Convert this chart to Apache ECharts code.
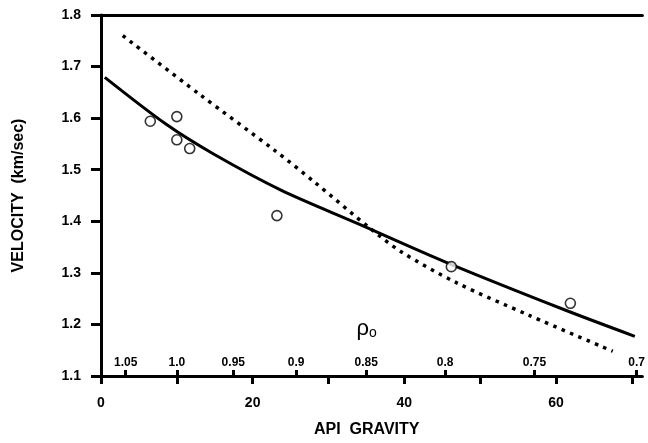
<!DOCTYPE html>
<html>
<head>
<meta charset="utf-8">
<script src="https://cdn.jsdelivr.net/npm/echarts@6/dist/echarts.min.js"></script>
<style>
  html, body { margin: 0; padding: 0; background: #fff; }
  #chart { width: 648px; height: 443px; }
</style>
</head>
<body>
<div id="chart"></div>
<script>
// Measured velocities: API gravity vs velocity (km/sec)
const sampleApi = [6.5, 10.0, 10.0, 11.7, 23.2, 46.2, 61.9];
const sampleVelocity = [1.594, 1.603, 1.558, 1.541, 1.411, 1.312, 1.241];

// Solid fitted curve
const fitApi = [0.5, 8.6, 14.9, 23.8, 33.8, 45.6, 61.2, 70.4];
const fitVelocity = [1.679, 1.588, 1.530, 1.460, 1.396, 1.320, 1.228, 1.177];

// Dotted curve
const dotApi = [2.87, 12.92, 22.94, 28.16, 35.51, 39.69, 46.87, 56.40, 67.49];
const dotVelocity = [1.760, 1.647, 1.537, 1.476, 1.386, 1.340, 1.281, 1.218, 1.148];

// Axis ticks
const apiTicks = [0, 10, 20, 30, 40, 50, 60, 70];
const apiLabels = [0, 20, 40, 60];
const velocityTicks = ['1.1', '1.2', '1.3', '1.4', '1.5', '1.6', '1.7', '1.8'];

// Density scale (g/cc) shown along the API axis
const rhoValues = [1.05, 1.0, 0.95, 0.9, 0.85, 0.8, 0.75, 0.7];
const rhoLabels = ['1.05', '1.0', '0.95', '0.9', '0.85', '0.8', '0.75', '0.7'];

// API gravity for a given density
const rhoToApi = rho => 141.5 / rho - 131.5;
const rhoPositions = rhoValues.map(rhoToApi);

const pairs = (xs, ys) => xs.map((x, i) => [x, ys[i]]);

const FONT = 'Liberation Sans, Arial, Helvetica, sans-serif';
const INK = '#000';
const API_MAX = 71.4;

const chart = echarts.init(document.getElementById('chart'));
chart.setOption({
  animation: false,
  backgroundColor: '#fff',
  grid: { left: 101, right: 0, top: 15, bottom: 61, containLabel: false },
  xAxis: [
    {
      type: 'value', position: 'bottom', min: 0, max: API_MAX,
      axisLine: { show: true, lineStyle: { color: INK, width: 3 } },
      axisTick: { show: true, length: 8, customValues: apiTicks, lineStyle: { color: INK, width: 3 } },
      axisLabel: { customValues: apiLabels, margin: 20, color: INK, fontFamily: FONT, fontSize: 14, fontWeight: 'bold' },
      splitLine: { show: false },
      name: 'API  GRAVITY', nameLocation: 'middle', nameGap: 46,
      nameTextStyle: { color: INK, fontFamily: FONT, fontSize: 16, fontWeight: 'bold', padding: [0, 10, 0, 0] }
    },
    {
      type: 'value', position: 'bottom', min: 0, max: API_MAX,
      axisLine: { show: false },
      axisTick: { show: true, inside: true, length: 6, customValues: rhoPositions, lineStyle: { color: INK, width: 3 } },
      axisLabel: {
        inside: true, margin: 7, customValues: rhoPositions,
        color: INK, fontFamily: FONT, fontSize: 12, fontWeight: 'bold',
        formatter: v => {
          let best = 0;
          rhoPositions.forEach((p, i) => { if (Math.abs(p - v) < Math.abs(rhoPositions[best] - v)) best = i; });
          return rhoLabels[best];
        }
      },
      splitLine: { show: false },
      name: '{r|ρ}{s|o}', nameLocation: 'middle', nameGap: -58,
      nameTextStyle: {
        padding: [0, 10, 0, 0],
        rich: {
          r: { fontFamily: FONT, fontSize: 22, color: INK },
          s: { fontFamily: FONT, fontSize: 14, color: INK, padding: [8, 0, 0, 0] }
        }
      }
    },
    {
      type: 'value', position: 'top', min: 0, max: API_MAX,
      axisLine: { show: true, lineStyle: { color: INK, width: 3 } },
      axisTick: { show: false }, axisLabel: { show: false }, splitLine: { show: false }
    }
  ],
  yAxis: {
    type: 'value', min: 1.1, max: 1.8, interval: 0.1,
    axisLine: { show: true, lineStyle: { color: INK, width: 3 } },
    axisTick: { show: true, length: 10, lineStyle: { color: INK, width: 3 } },
    axisLabel: {
      margin: 20, color: INK, fontFamily: FONT, fontSize: 14, fontWeight: 'bold',
      formatter: v => velocityTicks[Math.round((v - 1.1) * 10)]
    },
    splitLine: { show: false },
    name: 'VELOCITY  (km/sec)', nameLocation: 'middle', nameGap: 74,
    nameTextStyle: { color: INK, fontFamily: FONT, fontSize: 16, fontWeight: 'bold' }
  },
  series: [
    {
      type: 'line', xAxisIndex: 0, data: pairs(fitApi, fitVelocity),
      smooth: 0.3, showSymbol: false, z: 2,
      lineStyle: { color: INK, width: 3 }
    },
    {
      type: 'line', xAxisIndex: 0, data: pairs(dotApi, dotVelocity),
      smooth: 0.3, showSymbol: false, z: 2,
      lineStyle: { color: INK, width: 3.5, type: [3.5, 5.5], cap: 'butt' }
    },
    {
      type: 'scatter', xAxisIndex: 0, data: pairs(sampleApi, sampleVelocity),
      symbol: 'circle', symbolSize: 10, z: 5,
      itemStyle: { color: '#fff', borderColor: INK, borderWidth: 1.6 }
    }
  ]
});
</script>
</body>
</html>
